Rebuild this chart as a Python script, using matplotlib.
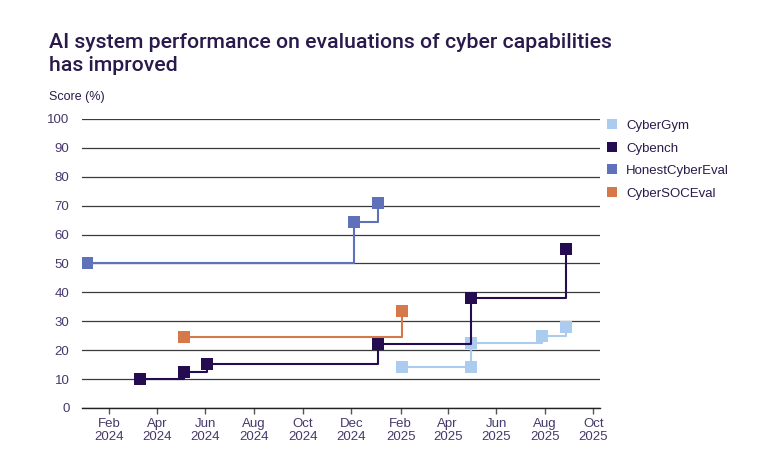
import matplotlib
matplotlib.use('Agg')
import matplotlib.pyplot as plt
import matplotlib.dates as mdates
import pandas as pd

plt.rcParams['font.family'] = ['Liberation Sans', 'DejaVu Sans']

# data
cybergym_dates = ['2025-02-03', '2025-04-30', '2025-04-30', '2025-07-28', '2025-08-28']
cybergym_scores = [14.0, 14.0, 22.5, 25.0, 28.1]

cybench_dates = ['2024-03-11', '2024-05-05', '2024-06-03', '2025-01-04', '2025-04-30', '2025-08-28']
cybench_scores = [10.0, 12.4, 15.3, 22.1, 38.1, 55.1]

honest_dates = ['2024-01-04', '2024-12-04', '2025-01-04']
honest_scores = [50.0, 64.3, 70.9]

soc_dates = ['2024-05-05', '2025-02-03']
soc_scores = [24.5, 33.5]

series_names = ['CyberGym', 'Cybench', 'HonestCyberEval', 'CyberSOCEval']
series_colors = ['#abcbef', '#250b4f', '#5f71bb', '#d5794a']
series_dates = [cybergym_dates, cybench_dates, honest_dates, soc_dates]
series_scores = [cybergym_scores, cybench_scores, honest_scores, soc_scores]

TEXT = '#2a1a4c'
TICK = '#46386b'

fig = plt.figure(figsize=(7.82, 4.70), dpi=100)
ax = fig.add_axes([0.1049, 0.132, 0.662, 0.615])

for name, col, d, s in zip(series_names, series_colors, series_dates, series_scores):
	ax.step(pd.to_datetime(d), s, where='post', color=col, lw=1.5,
			marker='s', markersize=8, markeredgewidth=0, label=name, zorder=3)

ax.set_ylim(0, 100)
ax.set_yticks(range(0, 101, 10))
ax.set_xlim(pd.Timestamp('2023-12-29'), pd.Timestamp('2025-10-09'))
ax.xaxis.set_major_locator(mdates.MonthLocator(bymonth=[2, 4, 6, 8, 10, 12]))
ax.xaxis.set_major_formatter(mdates.DateFormatter('%b\n%Y'))

ax.yaxis.grid(True, color='#3a3a3a', lw=0.9)
ax.set_axisbelow(True)
for sp in ['left', 'right', 'top']:
	ax.spines[sp].set_visible(False)
ax.spines['bottom'].set_color('#222222')
ax.spines['bottom'].set_linewidth(1.0)

ax.tick_params(axis='y', length=0, pad=9, labelsize=9.5, labelcolor=TICK)
ax.tick_params(axis='x', length=4, width=1, color='#555555', pad=3, labelsize=9.5, labelcolor=TICK)

fig.text(49 / 782, 1 - 33 / 470, 'AI system performance on evaluations of cyber capabilities\nhas improved',
		 fontsize=15.3, color=TEXT, va='top', ha='left', linespacing=1.25,
		 family=['Roboto', 'DejaVu Sans'], weight='medium')
fig.text(49 / 782, 1 - 97 / 470, 'Score (%)', fontsize=9, color=TEXT, va='center', ha='left')

leg = ax.legend(loc='upper left', bbox_to_anchor=(0.99, 1.038), frameon=False,
				handlelength=0.9, handletextpad=0.6, labelspacing=0.78, fontsize=9.5)
for h, col in zip(leg.legend_handles, series_colors):
	h.set_linestyle('')
	h.set_marker('s')
	h.set_markersize(7.5)
for t in leg.get_texts():
	t.set_color(TEXT)

fig.savefig('out.png', dpi=100)
